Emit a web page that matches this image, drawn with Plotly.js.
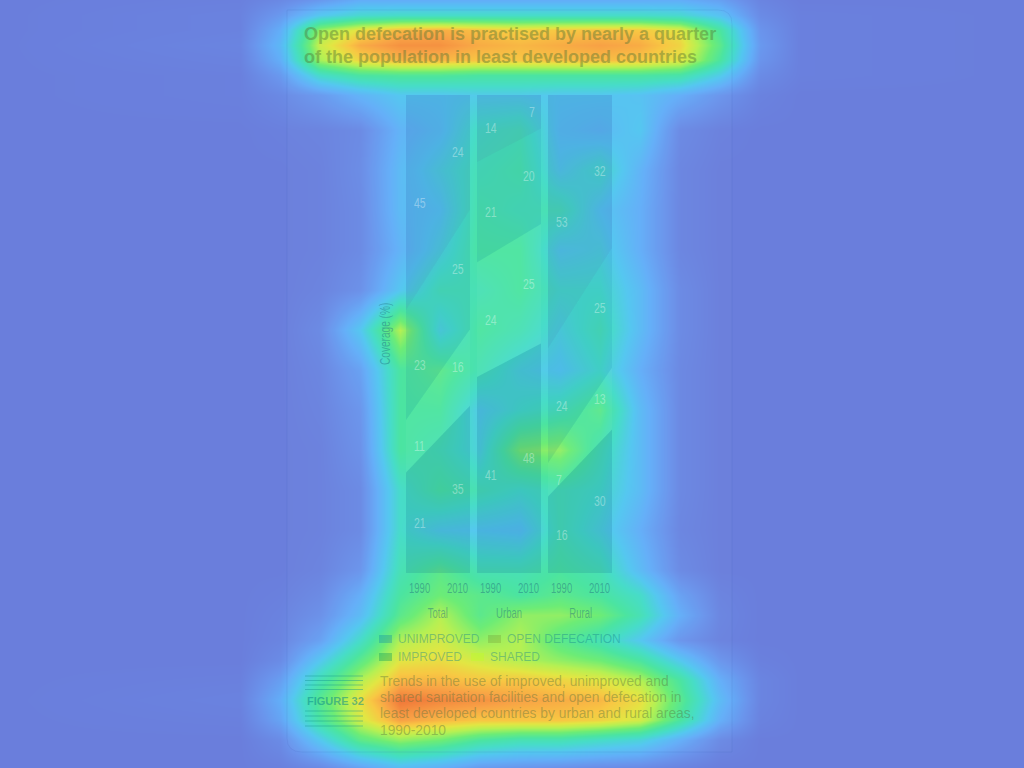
<!DOCTYPE html>
<html>
<head>
<meta charset="utf-8">
<script src="https://cdn.plot.ly/plotly-3.0.1.min.js"></script>
<style>html,body{margin:0;padding:0;background:#6a7edc;}#chart{width:1024px;height:768px;}</style>
</head>
<body>
<div id="chart"></div>
<script>
// ---- chart data ----
const groups = ['Total', 'Urban', 'Rural'];
const years = [1990, 2010];
const seriesNames = ['IMPROVED', 'SHARED', 'UNIMPROVED', 'OPEN DEFECATION'];
const improved       = [[21, 35], [41, 48], [16, 30]];
const shared         = [[11, 16], [24, 25], [7, 13]];
const unimproved     = [[23, 25], [21, 20], [24, 25]];
const openDefecation = [[45, 24], [14, 7], [53, 32]];
const legendOrder = ['UNIMPROVED', 'OPEN DEFECATION', 'IMPROVED', 'SHARED'];
const titleText = 'Open defecation is practised by nearly a quarter<br>of the population in least developed countries';
const figureLabel = 'FIGURE 32';
const captionLines = [
  'Trends in the use of improved, unimproved and',
  'shared sanitation facilities and open defecation in',
  'least developed countries by urban and rural areas,',
  '1990-2010'
];
const yAxisTitle = 'Coverage (%)';

// attention overlay (grid columns / rows in px, values 0..1)
const heatX = [0, 240, 280, 320, 360, 400, 440, 480, 520, 560, 600, 640, 680, 720, 760, 800, 1024];
const heatY = [0, 15, 30, 45, 60, 75, 95, 130, 170, 210, 250, 290, 330, 370, 410, 450, 490, 530, 570, 595, 615, 640, 660, 680, 700, 720, 740, 768];
const heatZ = [
  [0,0.01,0.05,0.12,0.2,0.2,0.2,0.2,0.2,0.2,0.2,0.2,0.2,0.15,0.03,0,0],
  [0,0.02,0.12,0.3,0.38,0.4,0.4,0.4,0.4,0.4,0.4,0.4,0.38,0.28,0.06,0.01,0],
  [0,0.02,0.2,0.66,0.8,0.88,0.9,0.86,0.83,0.85,0.86,0.85,0.78,0.5,0.1,0.01,0],
  [0,0.03,0.24,0.74,0.9,0.95,0.95,0.9,0.88,0.9,0.92,0.9,0.82,0.55,0.12,0.01,0],
  [0,0.02,0.2,0.68,0.82,0.88,0.88,0.85,0.85,0.86,0.87,0.85,0.78,0.5,0.1,0.01,0],
  [0,0.01,0.12,0.4,0.5,0.52,0.52,0.5,0.5,0.5,0.5,0.5,0.48,0.32,0.06,0.01,0],
  [0,0.01,0.05,0.12,0.22,0.3,0.3,0.32,0.32,0.3,0.3,0.28,0.2,0.1,0.02,0,0],
  [0,0,0.01,0.02,0.05,0.22,0.28,0.42,0.45,0.28,0.25,0.3,0.05,0.01,0,0,0],
  [0,0,0,0.01,0.06,0.25,0.35,0.45,0.48,0.32,0.4,0.22,0.03,0,0,0,0],
  [0,0,0,0.01,0.05,0.25,0.3,0.48,0.45,0.45,0.3,0.2,0.03,0,0,0,0],
  [0,0,0,0.01,0.05,0.22,0.35,0.5,0.5,0.32,0.35,0.2,0.03,0,0,0,0],
  [0,0,0,0.02,0.08,0.3,0.45,0.45,0.5,0.4,0.4,0.25,0.05,0,0,0,0],
  [0,0,0,0.05,0.3,0.7,0.35,0.5,0.45,0.35,0.45,0.25,0.05,0,0,0,0],
  [0,0,0,0.03,0.15,0.5,0.55,0.45,0.35,0.3,0.4,0.2,0.04,0,0,0,0],
  [0,0,0,0.02,0.1,0.5,0.5,0.32,0.4,0.45,0.55,0.25,0.04,0,0,0,0],
  [0,0,0,0.01,0.08,0.5,0.45,0.35,0.62,0.65,0.45,0.25,0.04,0,0,0,0],
  [0,0,0,0.01,0.05,0.4,0.5,0.45,0.4,0.45,0.4,0.25,0.04,0,0,0,0],
  [0,0,0,0.01,0.05,0.4,0.32,0.3,0.28,0.45,0.35,0.2,0.03,0,0,0,0],
  [0,0,0,0.02,0.1,0.45,0.55,0.45,0.45,0.5,0.45,0.25,0.05,0,0,0,0],
  [0,0,0.01,0.05,0.2,0.5,0.6,0.55,0.5,0.55,0.5,0.4,0.15,0.02,0,0,0],
  [0,0,0.02,0.08,0.25,0.55,0.7,0.55,0.65,0.65,0.6,0.45,0.2,0.03,0,0,0],
  [0,0,0.03,0.15,0.4,0.7,0.75,0.65,0.7,0.55,0.45,0.3,0.1,0.02,0,0,0],
  [0,0,0.06,0.3,0.55,0.78,0.8,0.75,0.7,0.65,0.6,0.5,0.3,0.1,0.01,0,0],
  [0,0.01,0.14,0.45,0.7,0.88,0.88,0.85,0.85,0.82,0.78,0.7,0.5,0.2,0.03,0,0],
  [0,0.02,0.2,0.55,0.8,1.0,0.97,0.95,0.92,0.9,0.88,0.8,0.55,0.25,0.03,0,0],
  [0,0.01,0.16,0.5,0.75,0.92,0.88,0.85,0.85,0.85,0.82,0.75,0.5,0.2,0.02,0,0],
  [0,0,0.06,0.3,0.55,0.65,0.6,0.5,0.45,0.45,0.4,0.35,0.2,0.05,0,0,0],
  [0,0,0.01,0.05,0.15,0.25,0.2,0.12,0.1,0.08,0.06,0.05,0.02,0,0,0,0]
];

// ---- styles ----
const W = 1024, H = 768;
const px = v => v / W, py = v => 1 - v / H;
const fills = {
  'IMPROVED': 'rgba(0,70,130,0.15)',
  'SHARED': 'rgba(220,255,220,0.04)',
  'UNIMPROVED': 'rgba(0,70,150,0.09)',
  'OPEN DEFECATION': 'rgba(30,50,150,0.14)'
};
const swatch = {
  'IMPROVED': 'rgba(0,150,90,0.35)',
  'SHARED': 'rgba(190,250,40,0.45)',
  'UNIMPROVED': 'rgba(0,120,170,0.3)',
  'OPEN DEFECATION': 'rgba(90,120,30,0.22)'
};
const sans = '"Liberation Sans", Arial, sans-serif';
const seriesData = [improved, shared, unimproved, openDefecation];
const panelX = [[406, 470], [477, 541], [548, 612]];
const panelY = [573, 95];
const narrow = {};   // annotation index -> horizontal condensing factor

const traces = [{
  type: 'heatmap', x: heatX, y: heatY, z: heatZ, zmin: 0, zmax: 1, zsmooth: 'best',
  showscale: false, hoverinfo: 'skip', xaxis: 'x', yaxis: 'y',
  colorscale: [[0, '#6a7edc'], [0.1, '#6a94ec'], [0.2, '#62aef8'], [0.3, '#52c6f0'],
               [0.4, '#44dcc8'], [0.5, '#48e4a0'], [0.6, '#6aec74'], [0.7, '#b4f050'],
               [0.78, '#e2e640'], [0.85, '#f8c640'], [0.92, '#f8a042'], [1, '#f07436']]
}];

const layout = {
  width: W, height: H,
  margin: {l: 0, r: 0, t: 0, b: 0},
  paper_bgcolor: '#6a7edc', plot_bgcolor: 'rgba(0,0,0,0)',
  showlegend: false,
  title: {
    text: titleText, x: px(304), xanchor: 'left', xref: 'paper',
    y: py(40), yanchor: 'middle', yref: 'paper',
    font: {family: sans, size: 18, weight: 'bold', color: 'rgba(80,115,50,0.42)'}
  },
  xaxis: {domain: [0, 1], range: [0, W], visible: false, fixedrange: true},
  yaxis: {domain: [0, 1], range: [H, 0], visible: false, fixedrange: true},
  annotations: [], shapes: []
};
function addNarrow(a, f) { narrow[layout.annotations.length] = f; layout.annotations.push(a); }

const labelCol = 'rgba(30,105,125,0.45)';
groups.forEach((g, i) => {
  const xa = 'x' + (i + 2), ya = 'y' + (i + 2);
  layout['xaxis' + (i + 2)] = {domain: [px(panelX[i][0]), px(panelX[i][1])], range: [years[0], years[1]],
    visible: false, anchor: ya, fixedrange: true};
  layout['yaxis' + (i + 2)] = {domain: [py(panelY[0]), py(panelY[1])], range: [0, 100],
    visible: false, anchor: xa, fixedrange: true};
  seriesData.forEach((s, k) => {
    traces.push({
      type: 'scatter', mode: 'lines', x: years, y: s[i], stackgroup: 'g' + i,
      fillcolor: fills[seriesNames[k]], line: {width: 0, color: 'rgba(0,0,0,0)'},
      name: seriesNames[k], xaxis: xa, yaxis: ya, hoverinfo: 'skip'
    });
  });
  years.forEach((yr, j) => {
    let base = 0;
    seriesData.forEach(s => {
      const v = s[i][j];
      addNarrow({
        x: yr, y: base + v / 2, xref: xa, yref: ya, text: String(v), showarrow: false,
        xanchor: j === 0 ? 'left' : 'right', xshift: j === 0 ? 6 : -4,
        font: {family: sans, size: 14, color: 'rgba(255,255,255,0.36)'}
      }, 0.75);
      base += v;
    });
    addNarrow({
      x: yr, y: py(588), xref: xa, yref: 'paper', text: String(yr), showarrow: false,
      xanchor: j === 0 ? 'left' : 'right', yanchor: 'middle', xshift: j === 0 ? 1 : 0,
      font: {family: sans, size: 14, color: labelCol}
    }, 0.68);
  });
  addNarrow({
    x: 0.5, y: py(613), xref: xa + ' domain', yref: 'paper', text: g, showarrow: false,
    yanchor: 'middle', font: {family: sans, size: 14, color: labelCol}
  }, 0.68);
});

addNarrow({
  x: px(385), y: py(334), xref: 'paper', yref: 'paper', text: yAxisTitle, showarrow: false,
  textangle: -90, xanchor: 'center', yanchor: 'middle',
  font: {family: sans, size: 14, color: 'rgba(30,110,130,0.45)'}
}, 0.72);

// legend (manual, two flowing rows)
const legendPos = [[379, 639], [488, 639], [379, 657], [471, 657]];
legendOrder.forEach((name, n) => {
  const [lx, ly] = legendPos[n];
  layout.shapes.push({type: 'rect', xref: 'paper', yref: 'paper', layer: 'above',
    x0: px(lx), x1: px(lx + 13), y0: py(ly + 4), y1: py(ly - 4),
    fillcolor: swatch[name], line: {width: 0}});
  layout.annotations.push({x: px(lx + 17), y: py(ly), xref: 'paper', yref: 'paper', text: name,
    showarrow: false, xanchor: 'left', yanchor: 'middle',
    font: {family: sans, size: 12, color: 'rgba(20,130,140,0.42)'}});
});

// figure label and caption
layout.annotations.push({x: px(305), y: py(701), xref: 'paper', yref: 'paper', text: '<b>' + figureLabel + '</b>',
  showarrow: false, xanchor: 'left', yanchor: 'middle',
  font: {family: sans, size: 11, color: 'rgba(10,140,140,0.55)'}});
[676, 680.5, 685, 689.5, 711, 716, 721, 726].forEach(ly => {
  layout.shapes.push({type: 'line', xref: 'paper', yref: 'paper', layer: 'above',
    x0: px(305), x1: px(363), y0: py(ly), y1: py(ly), line: {width: 1, color: 'rgba(10,140,140,0.4)'}});
});
captionLines.forEach((t, n) => {
  layout.annotations.push({x: px(378), y: py(681 + n * 16.4), xref: 'paper', yref: 'paper', text: t,
    showarrow: false, xanchor: 'left', yanchor: 'middle',
    font: {family: sans, size: 13.8, color: 'rgba(80,110,60,0.4)'}});
});

// faint card outline
layout.shapes.push({type: 'path', xref: 'paper', yref: 'paper', layer: 'above',
  path: 'M' + px(300) + ',' + py(10) + ' L' + px(718) + ',' + py(10) + ' Q' + px(732) + ',' + py(10) + ' ' + px(732) + ',' + py(24) +
        ' L' + px(732) + ',' + py(752) + ' L' + px(302) + ',' + py(752) + ' Q' + px(287) + ',' + py(752) + ' ' + px(287) + ',' + py(738) +
        ' L' + px(287) + ',' + py(10) + ' Z',
  fillcolor: 'rgba(255,255,255,0.02)', line: {width: 1, color: 'rgba(60,90,170,0.12)'}});

Plotly.newPlot('chart', traces, layout, {displayModeBar: false, staticPlot: true}).then(() => {
  // condense the labels that use a condensed face in the reference
  Object.keys(narrow).forEach(k => {
    const i = +k, f = narrow[k];
    const t = document.querySelector('.annotation[data-index="' + i + '"] text.annotation-text');
    if (!t) return;
    const len = t.getComputedTextLength();
    const nl = len * f;
    const a = layout.annotations[i];
    const cx = parseFloat(t.getAttribute('x'));
    t.setAttribute('textLength', nl);
    t.setAttribute('lengthAdjust', 'spacingAndGlyphs');
    if (a.textangle !== -90 && a.xanchor === 'left') { t.setAttribute('text-anchor', 'start'); t.setAttribute('x', cx - len / 2); }
    else if (a.textangle !== -90 && a.xanchor === 'right') { t.setAttribute('text-anchor', 'end'); t.setAttribute('x', cx + len / 2); }
    else { t.setAttribute('text-anchor', 'start'); t.setAttribute('x', cx - nl / 2); }
  });
});
</script>
</body>
</html>
